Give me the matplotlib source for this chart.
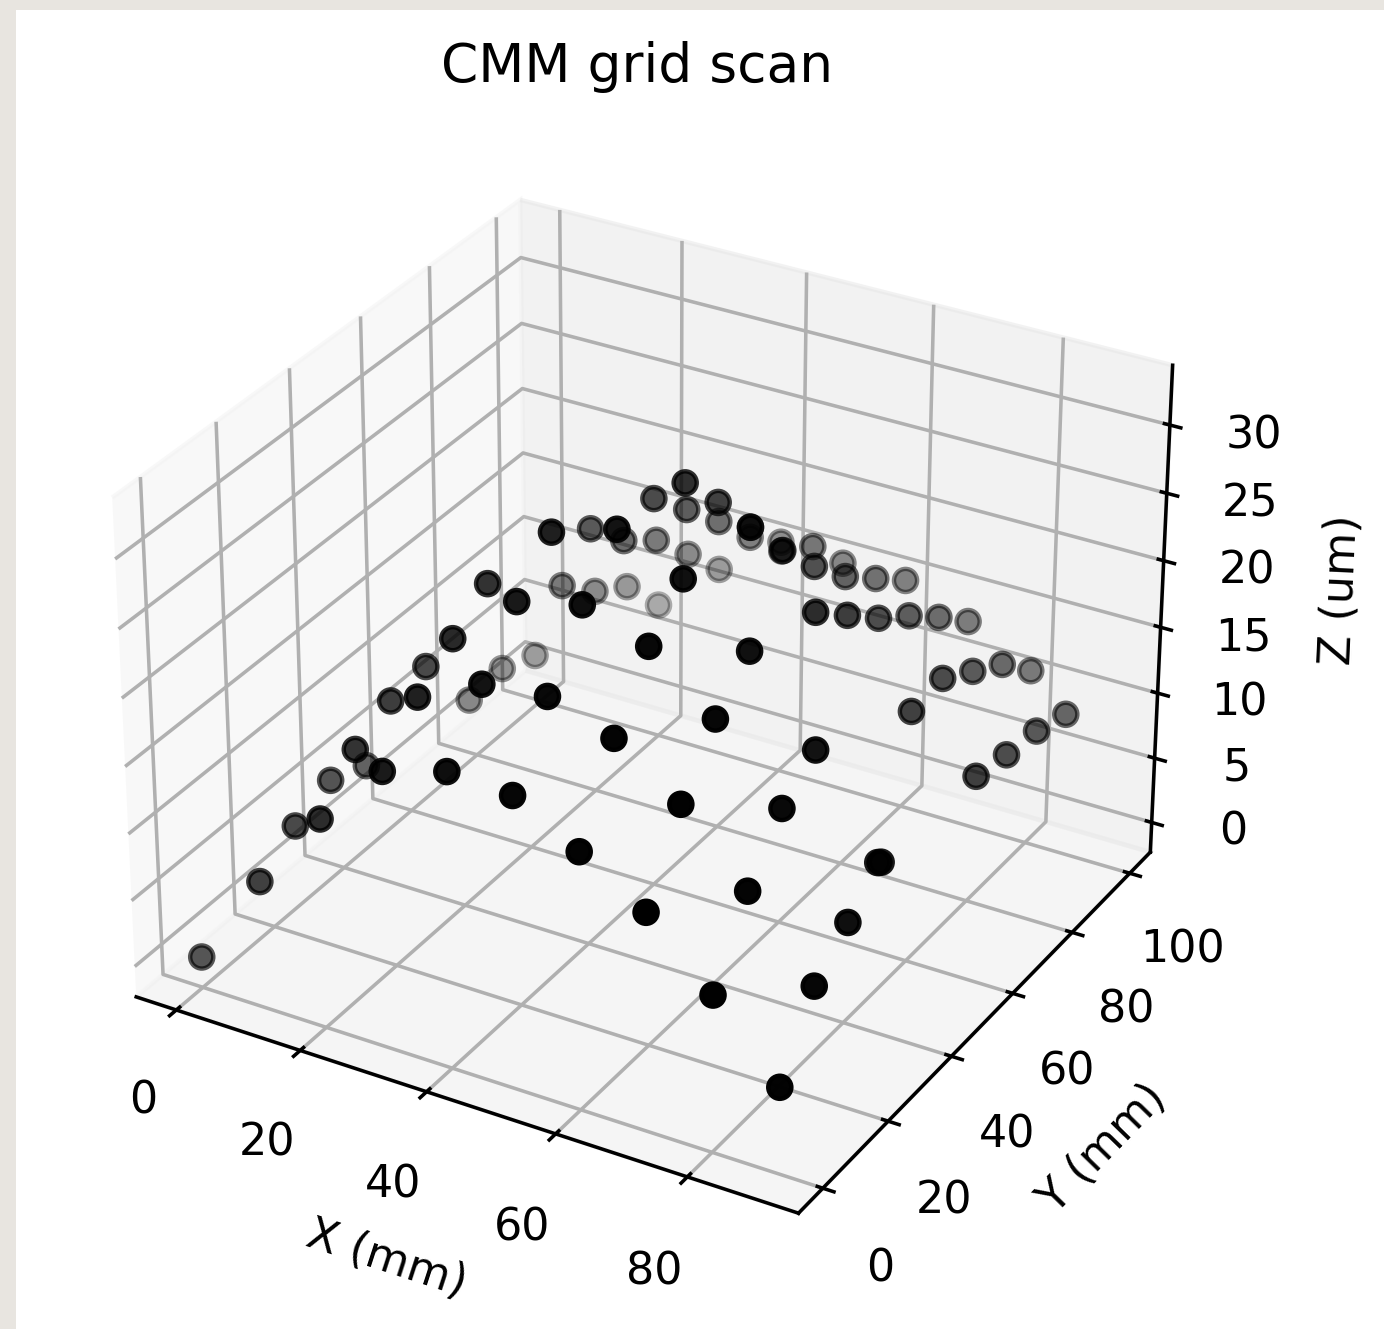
import numpy as np, matplotlib
matplotlib.use('Agg')
import matplotlib.pyplot as plt
from matplotlib.patches import Rectangle

W, H = 1384, 1329
DPI = 320

title = 'CMM grid scan'
x_label, y_label, z_label = 'X (mm)', 'Y (mm)', 'Z (um)'

y_x0 = [0];  z_x0 = [0.0]
y_x10 = [0, 10, 20, 30, 60, 70, 80];  z_x10 = [7.2, 9.1, 10.3, 9.2, 7.7, 8.0, 6.9]
y_x20 = [0, 10, 20, 30, 70, 80, 90, 100];  z_x20 = [13.3, 16.2, 17.6, 18.0, 15.7, 13.2, 11.5, 8.0]
y_x30 = [0, 10, 20, 30, 60, 70, 80, 90, 100];  z_x30 = [18.2, 21.4, 23.5, 25.4, 23.3, 20.4, 18.4, 15.3, 12.1]
y_x40 = [0, 10, 20, 30, 60, 70, 80, 90, 100];  z_x40 = [19.6, 23.7, 27.5, 30.4, 26.8, 24.0, 21.1, 17.9, 15.5]
y_x50 = [0, 10, 20, 30, 50, 60, 70, 80, 90, 100];  z_x50 = [19.3, 24.2, 28.6, 31.9, 31.2, 27.8, 24.0, 20.2, 18.5, 15.2]
y_x60 = [0, 10, 20, 30, 50, 60, 70, 80, 90, 100];  z_x60 = [16.7, 22.6, 27.0, 29.7, 29.3, 25.6, 22.4, 19.6, 17.4, 15.2]
y_x70 = [0, 10, 20, 30, 50, 60, 70, 80, 90, 100];  z_x70 = [13.8, 19.3, 23.2, 25.9, 24.5, 22.2, 19.9, 18.0, 15.8, 13.4]
y_x80 = [0, 10, 20, 30, 60, 70, 80, 90, 100];  z_x80 = [9.3, 14.5, 18.2, 20.2, 16.5, 16.8, 15.2, 13.6, 11.0]
y_x90 = [0, 10, 20, 30, 60, 70, 80, 90];  z_x90 = [4.1, 9.1, 11.4, 13.5, 13.1, 12.5, 12.1, 11.2]
extra_x = [89.5];  extra_y = [30];  extra_z = [13.4]

columns = [(0, y_x0, z_x0), (10, y_x10, z_x10), (20, y_x20, z_x20), (30, y_x30, z_x30),
           (40, y_x40, z_x40), (50, y_x50, z_x50), (60, y_x60, z_x60), (70, y_x70, z_x70),
           (80, y_x80, z_x80), (90, y_x90, z_x90)]
xs = [c for c, ys_, _ in columns for _v in ys_] + extra_x
ys = [v for _, ys_, _ in columns for v in ys_] + extra_y
zs = [v for _, _, zs_ in columns for v in zs_] + extra_z

fig = plt.figure(figsize=(W / DPI, H / DPI), dpi=DPI)
ax = fig.add_subplot(projection='3d')
ax.set_position([47.2 / W, 41.4 / H, 1179.0 / W, 1179.0 / H])
ax.scatter(xs, ys, zs, c='k', s=27)
ax.set_xlim(-6.56, 96.56)
ax.set_ylim(-7.29, 107.29)
ax.set_zlim(-2.33, 34.33)
ax.set_xlabel(x_label)
ax.set_ylabel(y_label)
ax.set_zlabel(z_label)
ax.set_title(title)

paper = '#e8e5e0'
fig.patches.append(Rectangle((0, 0), 16 / W, 1, transform=fig.transFigure, fc=paper, ec='none', figure=fig))
fig.patches.append(Rectangle((0, 1 - 10 / H), 1, 10 / H, transform=fig.transFigure, fc=paper, ec='none', figure=fig))
fig.savefig('out.png', dpi=DPI)
